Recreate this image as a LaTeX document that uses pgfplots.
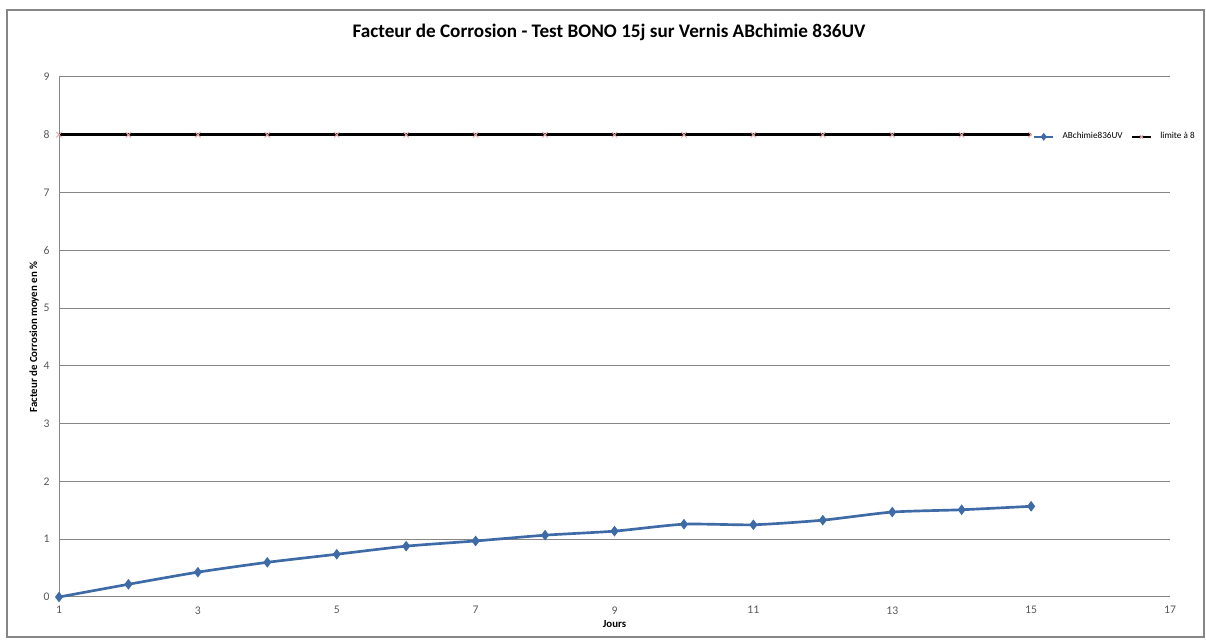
\documentclass[border=0pt]{standalone}
\usepackage{fontspec}
\setmainfont{Carlito}
\usepackage{pgfplots}
\pgfplotsset{compat=1.18}
\definecolor{serblue}{RGB}{62,106,166}
\definecolor{xpink}{RGB}{230,170,170}
\definecolor{gridg}{RGB}{134,134,134}
\definecolor{ticklab}{RGB}{89,89,89}
\begin{document}
\begin{tikzpicture}
\useasboundingbox (0pt,0pt) rectangle (723.6pt,383.4pt);
\draw[gridg,line width=0.8pt] (4.2pt,1.2pt) rectangle (722.4pt,377.4pt);
\node[font=\bfseries\fontsize{11.5}{13}\selectfont] at (365.4pt,364.2pt) {Facteur de Corrosion - Test BONO 15j sur Vernis ABchimie 836UV};
\begin{axis}[
  at={(35.4pt,25.2pt)}, anchor=south west,
  scale only axis, width=666.6pt, height=312pt,
  xmin=1, xmax=17, ymin=0, ymax=9,
  xtick={1,3,...,17}, ytick={0,1,...,9},
  axis x line=bottom, axis y line=left,
  axis line style={gridg,line width=0.6pt,-},
  ymajorgrids, grid style={gridg,line width=0.6pt},
  tick style={draw=none},
  tick label style={font=\fontsize{7}{8}\selectfont,text=ticklab},
  /pgf/number format/assume math mode=true,
  xlabel={Jours}, ylabel={Facteur de Corrosion moyen en \%},
  label style={font=\bfseries\fontsize{6.5}{7.5}\selectfont},
  xlabel style={yshift=3pt},
  ylabel style={yshift=-4pt},
  legend style={at={(1.027,0.885)},anchor=east,draw=none,fill=white,font=\fontsize{5.5}{6.5}\selectfont,column sep=3pt,inner sep=1pt},
  legend columns=2,
  legend image code/.code={\draw[mark repeat=2,mark phase=2,#1,mark size=1.4pt,line width=1.2pt] plot coordinates {(0cm,0cm) (0.2cm,0cm) (0.4cm,0cm)};},
  clip=false,
]
\addplot[serblue,line width=1.6pt,smooth,tension=0.4,mark=diamond*,mark size=1.9pt,mark options={solid,fill=serblue}] coordinates {
(1,0) (2,0.22) (3,0.43) (4,0.60) (5,0.74) (6,0.88) (7,0.97) (8,1.07) (9,1.14) (10,1.26) (11,1.25) (12,1.33) (13,1.47) (14,1.51) (15,1.57)};
\addlegendentry{ABchimie836UV}
\addplot[black,line width=1.8pt,mark=x,mark size=2.3pt,mark options={xpink,line width=0.6pt}] coordinates {
(1,8) (2,8) (3,8) (4,8) (5,8) (6,8) (7,8) (8,8) (9,8) (10,8) (11,8) (12,8) (13,8) (14,8) (15,8)};
\addlegendentry{limite à 8}
\end{axis}
\end{tikzpicture}
\end{document}
